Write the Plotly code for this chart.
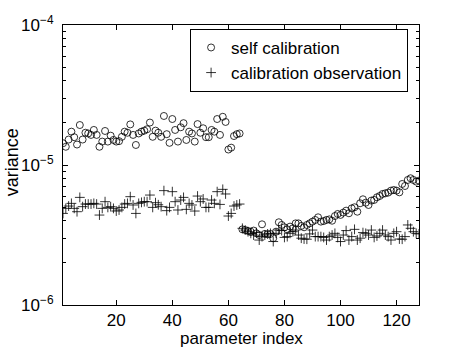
import plotly.graph_objects as go

param_index = list(range(1, 129))

self_calibration = [
    1.43e-5, 1.35e-5, 1.52e-5, 1.73e-5, 1.58e-5, 1.40e-5, 1.93e-5, 1.52e-5, 1.70e-5, 1.68e-5,
    1.64e-5, 1.78e-5, 1.64e-5, 1.35e-5, 1.47e-5, 1.75e-5, 1.47e-5, 1.62e-5, 1.51e-5, 1.47e-5,
    1.48e-5, 1.59e-5, 1.73e-5, 1.70e-5, 1.95e-5, 1.64e-5, 1.39e-5, 1.68e-5, 1.73e-5, 1.76e-5,
    1.80e-5, 2.01e-5, 1.59e-5, 1.76e-5, 1.70e-5, 1.59e-5, 2.24e-5, 1.66e-5, 1.44e-5, 2.13e-5,
    1.78e-5, 1.47e-5, 1.86e-5, 1.99e-5, 1.51e-5, 1.73e-5, 1.68e-5, 1.47e-5, 1.96e-5, 1.70e-5,
    1.83e-5, 1.58e-5, 1.58e-5, 1.78e-5, 1.73e-5, 2.13e-5, 1.64e-5, 2.21e-5, 2.03e-5, 1.29e-5,
    1.33e-5, 1.61e-5, 1.66e-5, 1.68e-5,
    3.47e-6, 3.43e-6, 3.38e-6, 3.34e-6, 3.40e-6, 3.25e-6, 3.16e-6, 3.77e-6, 3.22e-6, 3.20e-6,
    3.22e-6, 3.00e-6, 3.34e-6, 3.90e-6, 3.73e-6, 3.59e-6, 3.47e-6, 3.63e-6, 3.53e-6, 3.83e-6,
    3.83e-6, 3.67e-6, 3.59e-6, 3.73e-6, 3.83e-6, 3.94e-6, 4.05e-6, 4.23e-6, 3.94e-6, 3.98e-6,
    4.05e-6, 4.09e-6, 4.00e-6, 4.32e-6, 4.47e-6, 4.40e-6, 4.57e-6, 4.72e-6, 4.52e-6, 4.90e-6,
    4.99e-6, 4.64e-6, 5.33e-6, 5.69e-6, 5.38e-6, 5.18e-6, 5.57e-6, 5.63e-6, 5.88e-6, 6.01e-6,
    6.21e-6, 6.28e-6, 6.35e-6, 6.56e-6, 6.63e-6, 6.56e-6, 6.38e-6, 7.32e-6, 7.08e-6, 7.82e-6,
    8.04e-6, 7.82e-6, 7.61e-6, 7.73e-6,
]

calibration_observation = [
    4.51e-6, 4.90e-6, 5.09e-6, 5.32e-6, 4.90e-6, 4.64e-6, 5.87e-6, 5.04e-6, 5.26e-6, 5.26e-6,
    5.26e-6, 5.32e-6, 5.26e-6, 4.39e-6, 4.90e-6, 5.47e-6, 4.98e-6, 5.04e-6, 4.90e-6, 4.69e-6,
    4.77e-6, 4.98e-6, 5.26e-6, 5.32e-6, 5.94e-6, 5.18e-6, 4.51e-6, 5.32e-6, 5.41e-6, 5.47e-6,
    5.47e-6, 6.10e-6, 4.98e-6, 5.38e-6, 5.20e-6, 5.04e-6, 6.56e-6, 4.72e-6, 4.98e-6, 6.45e-6,
    5.47e-6, 4.77e-6, 5.62e-6, 5.87e-6, 4.82e-6, 5.32e-6, 5.18e-6, 4.69e-6, 6.00e-6, 5.47e-6,
    5.72e-6, 4.98e-6, 4.98e-6, 5.62e-6, 5.32e-6, 6.45e-6, 5.23e-6, 6.70e-6, 6.21e-6, 4.32e-6,
    4.51e-6, 5.09e-6, 5.18e-6, 5.26e-6,
    3.53e-6, 3.43e-6, 3.34e-6, 3.25e-6, 3.16e-6, 3.29e-6, 2.91e-6, 3.08e-6, 3.16e-6, 3.22e-6,
    3.25e-6, 2.84e-6, 3.25e-6, 3.43e-6, 3.40e-6, 3.04e-6, 3.08e-6, 3.25e-6, 3.34e-6, 3.43e-6,
    3.16e-6, 3.00e-6, 2.96e-6, 2.95e-6, 3.22e-6, 3.43e-6, 3.08e-6, 3.08e-6, 3.08e-6, 3.04e-6,
    2.91e-6, 3.08e-6, 3.16e-6, 3.25e-6, 3.04e-6, 2.84e-6, 3.16e-6, 3.40e-6, 2.91e-6, 3.08e-6,
    3.47e-6, 2.91e-6, 3.00e-6, 3.29e-6, 3.25e-6, 3.16e-6, 3.43e-6, 3.04e-6, 3.11e-6, 3.25e-6,
    3.43e-6, 3.16e-6, 3.08e-6, 2.91e-6, 3.25e-6, 3.34e-6, 2.96e-6, 2.95e-6, 3.08e-6, 3.73e-6,
    3.53e-6, 3.34e-6, 3.25e-6, 3.22e-6,
]

x_ticks = [20, 40, 60, 80, 100, 120]
y_ticks = [1e-6, 1e-5, 1e-4]
y_tick_labels = ["10<sup>−6</sup>", "10<sup>−5</sup>", "10<sup>−4</sup>"]
y_minor = [m * 10 ** e for e in (-6, -5) for m in range(2, 10)]

font = "Liberation Sans, Arial, sans-serif"

fig = go.Figure()
fig.add_trace(go.Scatter(
    x=param_index, y=self_calibration, mode="markers", name="self calibration",
    marker=dict(symbol="circle-open", size=7, color="black", line=dict(width=0.8, color="black")),
))
fig.add_trace(go.Scatter(
    x=param_index, y=calibration_observation, mode="markers", name="calibration observation",
    marker=dict(symbol="cross-thin-open", size=7, color="black", line=dict(width=0.8, color="black")),
))

fig.update_layout(
    width=463, height=349,
    margin=dict(l=63, r=44, t=25, b=44, autoexpand=False),
    paper_bgcolor="white", plot_bgcolor="white",
    font=dict(family=font, size=17, color="black"),
    showlegend=True,
    legend=dict(
        x=0.357, y=0.986, xanchor="left", yanchor="top",
        bgcolor="white", bordercolor="black", borderwidth=1,
        font=dict(size=17), tracegroupgap=0,
    ),
    xaxis=dict(
        range=[1, 128], showgrid=False, zeroline=False, automargin=False,
        showline=True, linecolor="black", linewidth=1, mirror="allticks",
        ticks="inside", ticklen=5, tickcolor="black",
        tickvals=x_ticks, ticktext=[str(v) for v in x_ticks],
        tickfont=dict(size=17),
    ),
    yaxis=dict(
        type="log", range=[-6, -4], showgrid=False, zeroline=False, automargin=False,
        showline=True, linecolor="black", linewidth=1, mirror="allticks",
        ticks="inside", ticklen=5, tickcolor="black",
        tickvals=y_ticks, ticktext=y_tick_labels,
        minor=dict(tickvals=y_minor, ticks="inside", ticklen=3, tickcolor="black", showgrid=False),
        tickfont=dict(size=17), ticklabelstandoff=5,
    ),
    annotations=[
        dict(text="parameter index", xref="paper", yref="paper", x=0.5, y=-0.121,
             xanchor="center", yanchor="middle", showarrow=False, font=dict(size=17)),
        dict(text="variance", xref="paper", yref="paper", x=-0.143, y=0.51,
             xanchor="center", yanchor="middle", textangle=-90, showarrow=False, font=dict(size=18)),
    ],
)

fig.write_html(
    "out.html",
    config={"displayModeBar": False},
    post_script="document.body.style.margin='0';document.body.style.overflow='hidden';",
)
